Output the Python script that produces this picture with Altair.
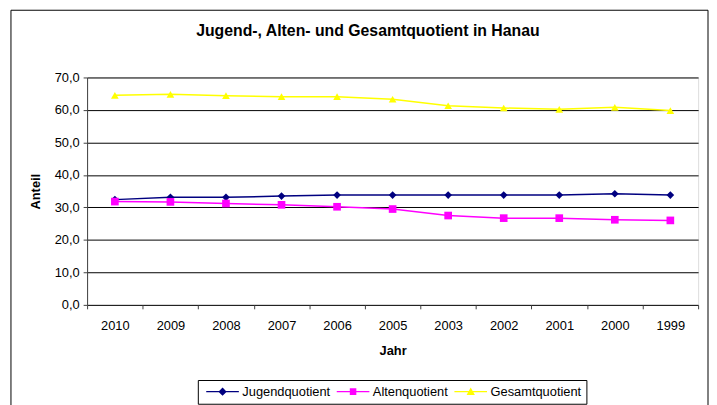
import altair as alt
import pandas as pd

years = ["2010", "2009", "2008", "2007", "2006", "2005", "2003", "2002", "2001", "2000", "1999"]
jugend = [32.4, 33.1, 33.1, 33.5, 33.8, 33.8, 33.8, 33.8, 33.8, 34.2, 33.8]
alten = [31.8, 31.7, 31.2, 30.8, 30.2, 29.5, 27.5, 26.7, 26.7, 26.2, 26.0]
gesamt = [64.5, 64.8, 64.4, 64.1, 64.1, 63.3, 61.3, 60.6, 60.2, 60.8, 59.8]

series_names = ["Jugendquotient", "Altenquotient", "Gesamtquotient"]
series_colors = ["#000080", "#FF00FF", "#FFFF00"]
marker_shapes = ["diamond", "square", "triangle-up"]
legend_shapes = [
    "M-1,-0.22 L10,-0.22 L10,0.22 L-1,0.22 Z M4.5,-1.4 L5.9,0 L4.5,1.4 L3.1,0 Z",
    "M-1,-0.22 L10,-0.22 L10,0.22 L-1,0.22 Z M3.4,-1.1 L5.6,-1.1 L5.6,1.1 L3.4,1.1 Z",
    "M-1,-0.22 L10,-0.22 L10,0.22 L-1,0.22 Z M4.5,-1.4 L5.9,1.1 L3.1,1.1 Z",
]

rows = []
for name, vals in zip(series_names, [jugend, alten, gesamt]):
    for y, v in zip(years, vals):
        rows.append({"Jahr": y, "Anteil": v, "Reihe": name})
df = pd.DataFrame(rows)

FONT = "Liberation Sans"

x_enc = alt.X(
    "Jahr:N",
    sort=years,
    scale=alt.Scale(paddingInner=0, paddingOuter=0),
    axis=alt.Axis(
        title="Jahr", labelAngle=0, tickBand="extent", grid=False, domain=False,
        tickColor="#404040", tickSize=4, labelPadding=11, labelFontSize=13,
        labelFont=FONT, labelColor="black", titleFont=FONT, titleFontSize=13,
        titleFontWeight="bold", titlePadding=12, titleColor="black",
    ),
)
y_enc = alt.Y(
    "Anteil:Q",
    scale=alt.Scale(domain=[0, 70], nice=False, zero=True),
    axis=alt.Axis(
        title="Anteil", values=[0, 10, 20, 30, 40, 50, 60, 70],
        labelExpr="replace(format(datum.value, '.1f'), '.', ',')",
        grid=True, gridColor="black", gridWidth=1, gridOpacity=1,
        domainColor="#404040", tickColor="#404040", tickSize=4, labelPadding=4,
        labelFontSize=13, labelFont=FONT, labelColor="black",
        titleFont=FONT, titleFontSize=13, titleFontWeight="bold",
        titlePadding=12, titleColor="black",
    ),
)

color_scale = alt.Scale(domain=series_names, range=series_colors)

base = alt.Chart(df)

lines = base.mark_line(strokeWidth=1.5).encode(
    x=x_enc, y=y_enc,
    color=alt.Color("Reihe:N", scale=color_scale, legend=None),
    detail="Reihe:N",
)

points = base.mark_point(filled=True, opacity=1, size=60).encode(
    x=x_enc, y=y_enc,
    color=alt.Color("Reihe:N", scale=color_scale, legend=None),
    shape=alt.Shape("Reihe:N", scale=alt.Scale(domain=series_names, range=marker_shapes), legend=None),
)

legend_layer = base.transform_filter("false").mark_point(filled=True, opacity=1).encode(
    x=x_enc, y=y_enc,
    color=alt.Color(
        "Reihe:N", scale=color_scale,
        legend=alt.Legend(
            title=None, orient="none", legendX=112, legendY=306, direction="horizontal",
            strokeColor="black", fillColor="white", padding=5, symbolSize=36,
            symbolOpacity=1, symbolStrokeWidth=0, labelOffset=27, columnPadding=3,
            labelFont=FONT, labelFontSize=13, labelColor="black",
        ),
    ),
    shape=alt.Shape("Reihe:N", scale=alt.Scale(domain=series_names, range=legend_shapes)),
)

frame = alt.Chart(alt.Data(values=[{"a": 1}])).mark_rect(
    fill="transparent", stroke="black", strokeWidth=1
).encode(
    x=alt.value(-77), x2=alt.value(628), y=alt.value(-68), y2=alt.value(420)
)

chart = alt.layer(frame, lines, points, legend_layer).resolve_scale(
    color="independent", shape="independent"
).properties(
    width=618, height=230,
    title=alt.Title(
        "Jugend-, Alten- und Gesamtquotient in Hanau", font=FONT, fontSize=16,
        fontWeight="bold", color="black", anchor="middle", frame="group", dx=-25,
        offset=0, dy=30,
    ),
    padding={"left": 80, "top": 68, "right": 11, "bottom": 99},
    autosize=alt.AutoSizeParams(type="none"),
).configure_view(
    fill="#C0C0C0", stroke="#808080", strokeWidth=1.5
).configure(background="white")

chart.save("out.html", embed_options={"renderer": "svg", "actions": False})
